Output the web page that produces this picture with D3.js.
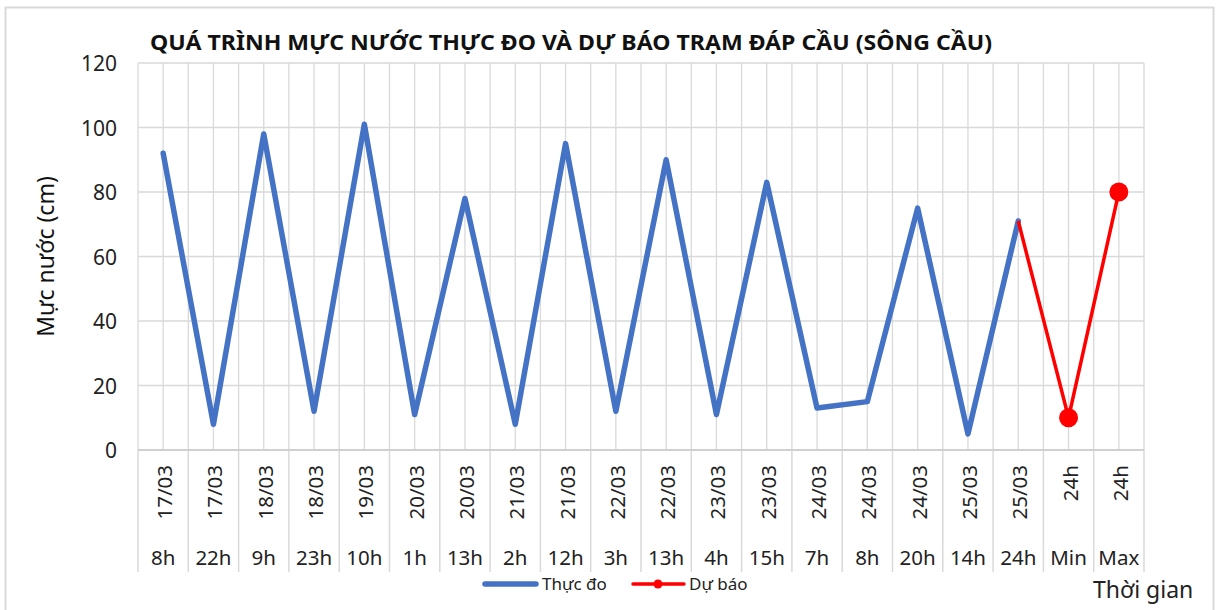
<!doctype html>
<html lang="vi">
<head>
<meta charset="utf-8">
<title>Quá trình mực nước trạm Đáp Cầu</title>
<script src="https://cdn.jsdelivr.net/npm/d3@7"></script>
<style>
  body { margin: 0; background: #fff; }
  svg { display: block; font-family: "Noto Sans", "Open Sans", sans-serif; }
</style>
</head>
<body>
<svg id="chart" width="1217" height="610"></svg>
<script>
// category labels (two levels: date over hour)
const dates = ["17/03", "17/03", "18/03", "18/03", "19/03", "20/03", "20/03", "21/03", "21/03", "22/03",
  "22/03", "23/03", "23/03", "24/03", "24/03", "24/03", "25/03", "25/03", "24h", "24h"];
const hours = ["8h", "22h", "9h", "23h", "10h", "1h", "13h", "2h", "12h", "3h",
  "13h", "4h", "15h", "7h", "8h", "20h", "14h", "24h", "Min", "Max"];

// measured (Thực đo) and forecast (Dự báo) water level, cm
const observed = [92, 8, 98, 12, 101, 11, 78, 8, 95, 12, 90, 11, 83, 13, 15, 75, 5, 71];
const forecastIdx = [17, 18, 19];
const forecast = [71, 10, 80];
const yTicks = [0, 20, 40, 60, 80, 100, 120];

const svg = d3.select("#chart");
const plotL = 138, plotR = 1144, plotT = 63, plotB = 450;

// outer frame
svg.append("rect")
  .attr("x", 5.5).attr("y", 7.5).attr("width", 1208).attr("height", 608)
  .attr("fill", "#fff").attr("stroke", "#d9d9d9").attr("stroke-width", 2);

const x = d3.scaleBand().domain(d3.range(hours.length)).range([plotL, plotR]);
const y = d3.scaleLinear().domain([0, 120]).range([plotB, plotT]);
const cx = (i) => x(i) + x.bandwidth() / 2;

// vertical grid: category edges and centres
const vLines = [];
hours.forEach((_, i) => { vLines.push(x(i)); vLines.push(cx(i)); });
vLines.push(plotR);
svg.append("g").selectAll("line").data(vLines).join("line")
  .attr("x1", (d) => d).attr("x2", (d) => d)
  .attr("y1", plotT).attr("y2", plotB)
  .attr("stroke", "#d9d9d9").attr("stroke-width", 1.3);

// horizontal grid
svg.append("g").selectAll("line").data(yTicks).join("line")
  .attr("x1", plotL).attr("x2", plotR)
  .attr("y1", (d) => y(d)).attr("y2", (d) => y(d))
  .attr("stroke", "#d9d9d9").attr("stroke-width", 1.3);

// category dividers below axis
const edges = d3.range(hours.length).map((i) => x(i)).concat([plotR]);
svg.append("g").selectAll("line").data(edges).join("line")
  .attr("x1", (d) => d).attr("x2", (d) => d)
  .attr("y1", plotB).attr("y2", 572)
  .attr("stroke", "#d9d9d9").attr("stroke-width", 1.5);
svg.append("line")
  .attr("x1", plotL).attr("x2", plotR).attr("y1", plotB).attr("y2", plotB)
  .attr("stroke", "#d0d0d0").attr("stroke-width", 2);

// y tick labels
svg.append("g").selectAll("text").data(yTicks).join("text")
  .attr("x", 117).attr("y", (d) => y(d))
  .attr("text-anchor", "end").attr("dominant-baseline", "central")
  .attr("font-size", 21).attr("fill", "#222")
  .text((d) => d);

// x labels: dates (rotated) and hours
svg.append("g").selectAll("text").data(dates).join("text")
  .attr("transform", (d, i) => `translate(${cx(i) + 1},465) rotate(-90)`)
  .attr("text-anchor", "end").attr("dominant-baseline", "central")
  .attr("font-size", 20.5).attr("fill", "#222")
  .text((d) => d);
svg.append("g").selectAll("text").data(hours).join("text")
  .attr("x", (d, i) => cx(i)).attr("y", 565)
  .attr("text-anchor", "middle")
  .attr("font-size", 20.5).attr("fill", "#222")
  .text((d) => d);

// series
const line = d3.line().x((d) => cx(d[0])).y((d) => y(d[1]));
svg.append("path")
  .datum(observed.map((v, i) => [i, v]))
  .attr("d", line)
  .attr("fill", "none").attr("stroke", "#4472C4").attr("stroke-width", 5.5)
  .attr("stroke-linejoin", "round").attr("stroke-linecap", "round");

const fc = forecast.map((v, i) => [forecastIdx[i], v]);
svg.append("path")
  .datum(fc)
  .attr("d", line)
  .attr("fill", "none").attr("stroke", "#FF0000").attr("stroke-width", 3.5)
  .attr("stroke-linejoin", "round");
svg.append("g").selectAll("circle").data(fc.slice(1)).join("circle")
  .attr("cx", (d) => cx(d[0])).attr("cy", (d) => y(d[1])).attr("r", 9.5)
  .attr("fill", "#FF0000");

// title
svg.append("text")
  .attr("x", 150).attr("y", 50)
  .attr("font-size", 21.5).attr("font-weight", "bold").attr("fill", "#111")
  .attr("textLength", 842).attr("lengthAdjust", "spacingAndGlyphs")
  .text("QUÁ TRÌNH MỰC NƯỚC THỰC ĐO VÀ DỰ BÁO TRẠM ĐÁP CẦU (SÔNG CẦU)");

// axis titles
svg.append("text")
  .attr("transform", `translate(54,${(plotT + plotB) / 2}) rotate(-90)`)
  .attr("text-anchor", "middle")
  .attr("font-size", 23).attr("fill", "#111")
  .text("Mực nước (cm)");
svg.append("text")
  .attr("x", 1093).attr("y", 598)
  .attr("font-size", 23).attr("fill", "#222")
  .text("Thời gian");

// legend
const legend = svg.append("g").attr("font-size", 17).attr("fill", "#222");
legend.append("line").attr("x1", 485).attr("x2", 536).attr("y1", 584).attr("y2", 584)
  .attr("stroke", "#4472C4").attr("stroke-width", 5.5).attr("stroke-linecap", "round");
legend.append("text").attr("x", 542).attr("y", 590).text("Thực đo");
legend.append("line").attr("x1", 633).attr("x2", 684).attr("y1", 584).attr("y2", 584)
  .attr("stroke", "#FF0000").attr("stroke-width", 3.5).attr("stroke-linecap", "round");
legend.append("circle").attr("cx", 658).attr("cy", 584).attr("r", 4.5).attr("fill", "#FF0000");
legend.append("text").attr("x", 689).attr("y", 590).text("Dự báo");
</script>
</body>
</html>
